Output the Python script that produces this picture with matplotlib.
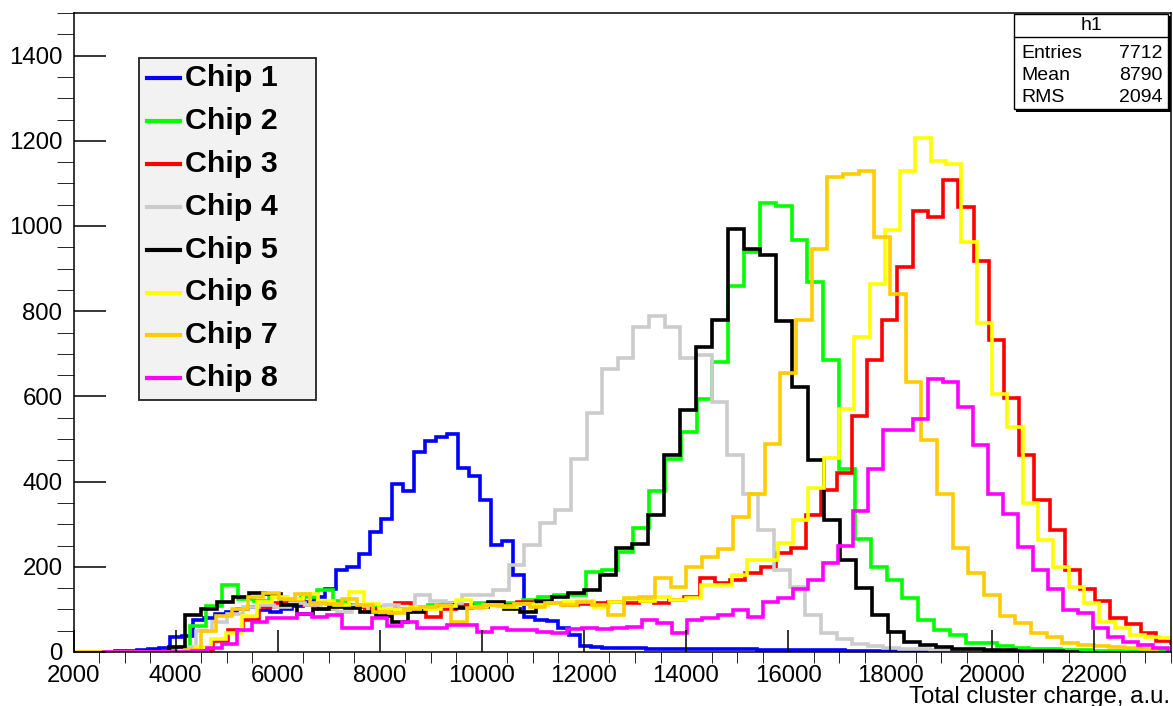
import numpy as np
import matplotlib.pyplot as plt
from matplotlib.patches import Rectangle

plt.rcParams['font.family'] = ['Liberation Sans', 'DejaVu Sans']

names = ['Chip 1', 'Chip 2', 'Chip 3', 'Chip 4', 'Chip 5', 'Chip 6', 'Chip 7', 'Chip 8']
colors = ['#0000ff', '#00ff00', '#ff0000', '#cccccc', '#000000', '#ffff00', '#ffcc00', '#ff00ff']

# each chip: first bin edge, bin width, bin contents
chip1_start, chip1_width = 2166.7, 216.67
chip1_counts = [0, 0, 0, 2, 3, 5, 8, 10, 36, 38, 74, 80, 90, 95, 100, 105, 98, 95, 100, 108,
                118, 128, 149, 192, 200, 231, 282, 313, 394, 378, 470, 496, 504, 511, 431, 413,
                356, 251, 261, 181, 83, 75, 72, 56, 40, 14, 12,
                10, 10, 9, 9, 8, 8, 8, 7, 7, 7, 6, 6, 6, 6, 5, 5, 5, 5, 4, 4, 4, 4, 3, 3, 3, 3,
                2, 2, 2, 2, 2, 2, 1, 1, 1, 1, 1, 1, 1, 1, 1, 0, 0, 0, 0, 0, 0, 0, 0, 0, 0, 0]

chip2_start, chip2_width = 3667, 310
chip2_counts = [0, 10, 60, 108, 157, 125, 120, 130, 125, 130, 145, 120, 110, 105, 95, 100, 105,
                110, 115, 110, 115, 110, 115, 122, 130, 134, 134,
                188, 192, 235, 290, 378, 452, 517, 593, 681, 858, 940, 1054, 1048, 966, 868,
                685, 430, 265, 200, 169, 126, 75, 52, 40, 22, 20, 14, 10, 8, 6, 5, 4, 3, 3,
                2, 2, 2, 1]

chip3_start, chip3_width = 3539, 298
chip3_counts = [0, 0, 0, 3, 25, 52, 75, 105, 115, 120, 110, 100, 110, 105, 100, 95, 115, 105,
                83, 100, 110, 105, 112, 110, 118, 112, 115, 110, 112, 115, 118, 115, 120, 115,
                122, 130, 173, 161, 168, 185, 200, 232, 243, 321, 380, 420, 555,
                685, 779, 904, 1035, 1021, 1107, 1044, 918, 732, 596, 462, 356, 286, 192, 147,
                120, 80, 66, 44, 26, 20]

chip4_start, chip4_width = 3790, 306
chip4_counts = [0, 12, 50, 70, 90, 105, 110, 105, 115, 110, 100, 95, 108, 95, 110, 100, 134,
                120, 115, 134, 134, 145, 204,
                251, 302, 333, 452, 560, 665, 689, 763, 788, 763, 691, 697, 587, 462, 372,
                286, 192, 153, 87, 45, 30, 18, 14, 10, 8, 6, 5, 4, 3, 2, 2, 1]

chip5_start, chip5_width = 3553, 313
chip5_counts = [0, 12, 87, 102, 118, 130, 138, 135, 110, 90, 100, 105, 103, 95, 85, 71, 95,
                103, 110, 103, 105, 118, 100, 95, 120, 130, 138,
                145, 181, 243, 253, 321, 462, 567, 716, 779, 992, 945, 933, 777, 622, 450,
                310, 215, 150, 87, 47, 24, 16, 12, 8, 6, 5, 4, 3, 2, 2, 1]

chip6_start, chip6_width = 1694, 300
chip6_counts = [0, 0, 0, 0, 0, 0, 0, 0, 3, 12, 30, 45, 85, 118, 130, 125, 135, 120, 110, 141,
                112, 100, 98, 105, 100, 108, 122, 105, 110, 105, 112, 110, 115, 118, 120, 105,
                118, 125, 120, 130, 122, 126, 157, 157, 181, 216, 216, 255, 310, 384, 455, 570,
                739, 865, 991, 1130, 1207, 1152, 1146, 962, 772, 605, 527, 349, 263, 200, 153,
                114, 71, 56, 40, 36, 34]

chip7_start, chip7_width = 2033, 307
chip7_counts = [0, 0, 0, 0, 0, 0, 0, 5, 50, 85, 100, 128, 138, 125, 135, 115, 112, 125, 110,
                95, 92, 100, 106, 110, 71, 103, 110, 108, 112, 105, 115, 110, 118, 110, 87, 126,
                130, 173, 153, 200, 224, 241, 317, 372, 489, 654,
                779, 947, 1116, 1123, 1129, 974, 841, 634, 497, 372, 243, 186, 134, 84, 67, 44,
                36, 20, 16, 14, 12, 10, 8]

chip8_start, chip8_width = 2562, 294
chip8_counts = [0, 0, 0, 0, 0, 0, 3, 10, 18, 52, 70, 79, 80, 90, 83, 87, 56, 56, 79, 60, 71, 56,
                56, 63, 63, 48, 56, 52, 52, 48, 45, 55, 56, 55, 57, 58, 75, 67, 44, 75, 80, 87,
                98, 83, 118, 126, 149, 169, 210, 250, 330, 430, 520, 522,
                548, 642, 634, 575, 485, 372, 323, 246, 192, 149, 98, 91, 56, 36, 24, 16, 9]

starts = [chip1_start, chip2_start, chip3_start, chip4_start,
          chip5_start, chip6_start, chip7_start, chip8_start]
widths = [chip1_width, chip2_width, chip3_width, chip4_width,
          chip5_width, chip6_width, chip7_width, chip8_width]
counts = [chip1_counts, chip2_counts, chip3_counts, chip4_counts,
          chip5_counts, chip6_counts, chip7_counts, chip8_counts]

stat_labels = ['Entries', 'Mean', 'RMS']
stat_values = ['7712', '8790', '2094']

W, H = 1173, 706
fig = plt.figure(figsize=(W / 100, H / 100), dpi=100)
ax = fig.add_axes([73.5 / W, 1 - 652 / H, (1171 - 73.5) / W, (652 - 13) / H])

for s, w, c, col in zip(starts, widths, counts, colors):
    edges = s + w * np.arange(len(c) + 1)
    ax.stairs(c, edges, color=col, lw=2.6)

ax.set_xlim(2000, 23500)
ax.set_ylim(0, 1500)
ax.set_xticks(np.arange(2000, 23000, 2000))
ax.set_xticks(np.arange(2000, 23501, 500), minor=True)
ax.set_yticks(np.arange(0, 1401, 200))
ax.set_yticks(np.arange(0, 1501, 50), minor=True)
ax.tick_params(direction='in', labelsize=17.3, width=1.1, colors='black')
ax.tick_params(axis='x', which='major', length=16, pad=9)
ax.tick_params(axis='x', which='minor', length=8)
ax.tick_params(axis='y', which='major', length=23, pad=8)
ax.tick_params(axis='y', which='minor', length=12)
for sp in ax.spines.values():
    sp.set_linewidth(1.1)

# overlay in pixel coordinates for legend, stats box and axis title
ov = fig.add_axes([0, 0, 1, 1], zorder=5)
ov.set_xlim(0, W)
ov.set_ylim(H, 0)
ov.axis('off')

ov.text(1170, 697, 'Total cluster charge, a.u.', ha='right', va='center', fontsize=17.3)

# legend
ov.add_patch(Rectangle((139, 58), 177, 342, facecolor='#f2f2f2', edgecolor='#222222', lw=1.3))
for i, (n, col) in enumerate(zip(names, colors)):
    yy = 78 + i * 42.9
    ov.plot([147, 180], [yy, yy], color=col, lw=3)
    ov.text(185, yy, n, ha='left', va='center', fontsize=21.9, fontweight='bold')

# stats box
ov.add_patch(Rectangle((1016, 16), 155, 96, facecolor='black', edgecolor='none'))
ov.add_patch(Rectangle((1014, 14), 154, 95, facecolor='white', edgecolor='black', lw=1))
ov.plot([1014, 1168], [37, 37], color='black', lw=1)
ov.text(1091, 26, 'h1', ha='center', va='center', fontsize=14)
for i, (lab, val) in enumerate(zip(stat_labels, stat_values)):
    yy = 53 + i * 22.5
    ov.text(1021, yy, lab, ha='left', va='center', fontsize=14)
    ov.text(1162, yy, val, ha='right', va='center', fontsize=14)

fig.savefig('out.png', dpi=100)
